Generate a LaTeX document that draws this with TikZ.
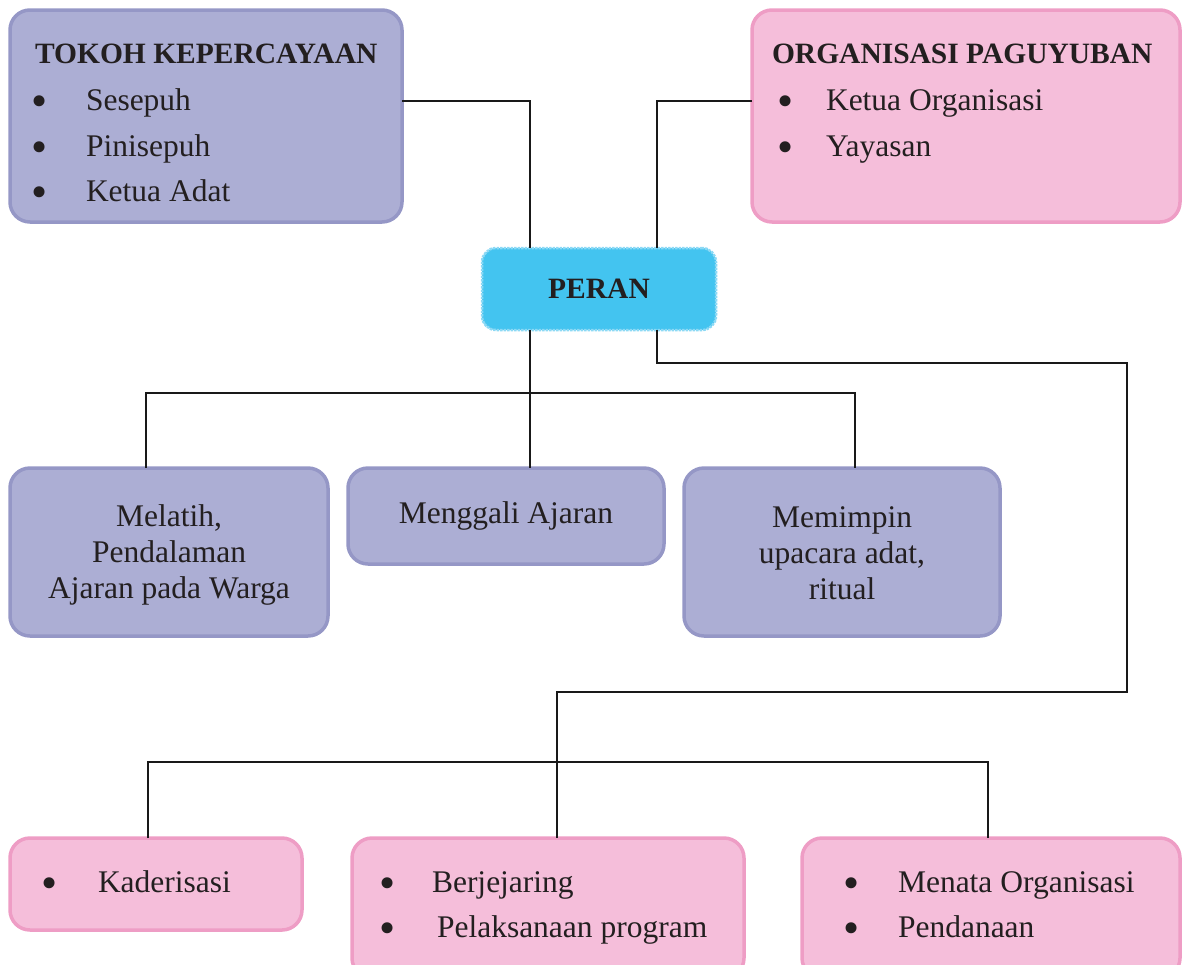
\documentclass[tikz,border=0pt]{standalone}
\usepackage{fontspec}
\setmainfont{Liberation Serif}
\definecolor{lavfill}{HTML}{ACAED4}
\definecolor{lavedge}{HTML}{9597C6}
\definecolor{pinkfill}{HTML}{F5BEDA}
\definecolor{pinkedge}{HTML}{EE9DC5}
\definecolor{cyanfill}{HTML}{43C4F0}
\definecolor{cyanedge}{HTML}{8CD9F5}
\definecolor{ink}{HTML}{231F20}
\begin{document}
\begin{tikzpicture}[x=1pt,y=-1pt,
  every node/.style={inner sep=0pt, outer sep=0pt},
  box/.style={rounded corners=20pt, line width=3.5pt, anchor=north west},
  lavbox/.style={box, fill=lavfill, draw=lavedge},
  pinkbox/.style={box, fill=pinkfill, draw=pinkedge},
  perabox/.style={rounded corners=14pt, line width=2.5pt, fill=cyanfill,
    draw=cyanedge, densely dotted, anchor=north west},
  txt/.style={anchor=base west, text=ink, font=\fontsize{31.5}{36}\selectfont},
  ttl/.style={txt, font=\fontsize{29.5}{36}\selectfont\bfseries},
  blt/.style={anchor=center, yshift=-6pt, text=ink, font=\fontsize{46}{46}\selectfont},
  ctr/.style={anchor=center, align=center, text=ink, font=\fontsize{31.5}{36}\selectfont},
  wire/.style={line width=2.4pt, draw=black!90}]
\useasboundingbox (0,0) rectangle (1182,964);
\clip (0,0) rectangle (1182,964);

% boxes
\node[lavbox, minimum width=392pt, minimum height=212pt] (tokoh) at (10,10) {};
\node[pinkbox, minimum width=428pt, minimum height=212pt] (org) at (752,10) {};
\node[perabox, minimum width=234pt, minimum height=82pt] (peran) at (482,248) {};
\node[lavbox, minimum width=318pt, minimum height=168pt] (melatih) at (10,468) {};
\node[lavbox, minimum width=316pt, minimum height=96pt] (menggali) at (348,468) {};
\node[lavbox, minimum width=316pt, minimum height=168pt] (memimpin) at (684,468) {};
\node[pinkbox, minimum width=292pt, minimum height=92pt] (kader) at (10,838) {};
\node[pinkbox, minimum width=392pt, minimum height=140pt] (berj) at (352,838) {};
\node[pinkbox, minimum width=378pt, minimum height=140pt] (menata) at (802,838) {};

% texts of the top boxes
\node[ttl] (t0) at (35,63) {TOKOH KEPERCAYAAN};
\node[blt] (tb1) at (40,100) {\textbullet};
\node[txt] (t1) at (86,110) {Sesepuh};
\node[blt] (tb2) at (40,146) {\textbullet};
\node[txt] (t2) at (86,156) {Pinisepuh};
\node[blt] (tb3) at (40,191) {\textbullet};
\node[txt] (t3) at (86,201) {Ketua Adat};

\node[ttl] (o0) at (772,63) {ORGANISASI PAGUYUBAN};
\node[blt] (ob1) at (786,100) {\textbullet};
\node[txt] (o1) at (826,110) {Ketua Organisasi};
\node[blt] (ob2) at (786,146) {\textbullet};
\node[txt] (o2) at (826,156) {Yayasan};

\node[anchor=center, text=ink, font=\fontsize{29.5}{36}\selectfont\bfseries] (p0) at (599,289) {PERAN};

% texts of the middle row
\node[ctr] (m1) at (169,555) {Melatih,\\Pendalaman\\Ajaran pada Warga};
\node[ctr] (m2) at (506,516) {Menggali Ajaran};
\node[ctr] (m3) at (842,553) {Memimpin\\upacara adat,\\ritual};

% texts of the bottom row
\node[blt] (kb1) at (50,882) {\textbullet};
\node[txt] (k1) at (98,892) {Kaderisasi};
\node[blt] (bb1) at (388,882) {\textbullet};
\node[txt] (b1) at (432,892) {Berjejaring};
\node[blt] (bb2) at (388,927) {\textbullet};
\node[txt] (b2) at (437,937) {Pelaksanaan program};
\node[blt] (nb1) at (852,882) {\textbullet};
\node[txt] (n1) at (898,892) {Menata Organisasi};
\node[blt] (nb2) at (852,927) {\textbullet};
\node[txt] (n2) at (898,937) {Pendanaan};

% junction points of the connectors
\coordinate (j1) at (530,101);
\coordinate (j2) at (657,101);
\coordinate (d1) at (146,393);
\coordinate (d3) at (855,393);
\coordinate (r1) at (1127,363);
\coordinate (r2) at (557,692);
\coordinate (e1) at (148,762);
\coordinate (e3) at (988,762);

% connectors
\draw[wire] (tokoh.east |- j1) -| (peran.north -| j1);
\draw[wire] (org.west |- j2) -| (peran.north -| j2);
\draw[wire] (peran.south -| j1) -- (menggali.north -| j1);
\draw[wire] (d1 |- melatih.north) -- (d1) -- (d3) -- (d3 |- memimpin.north);
\draw[wire] (peran.south -| j2) |- (r1) |- (r2) -- (r2 |- berj.north);
\draw[wire] (e1 |- kader.north) -- (e1) -- (e3) -- (e3 |- menata.north);
\end{tikzpicture}
\end{document}
